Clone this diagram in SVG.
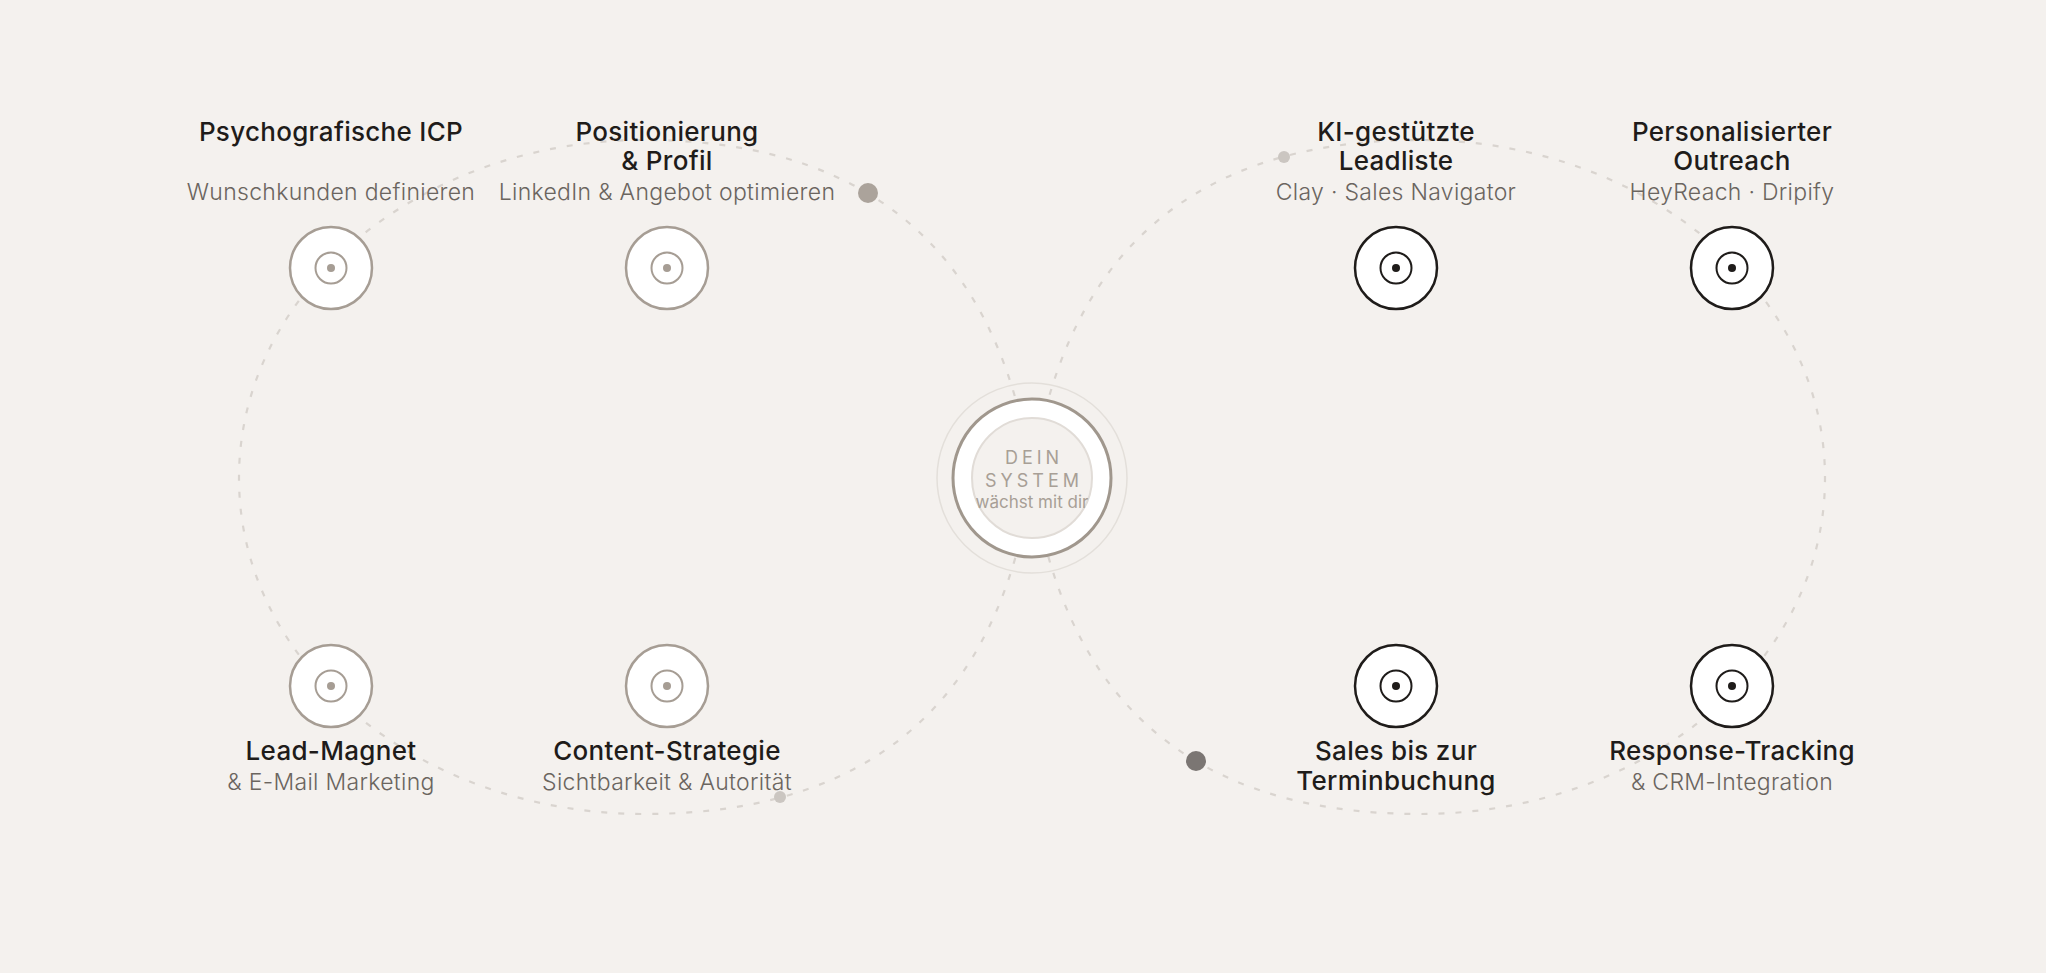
<svg xmlns="http://www.w3.org/2000/svg" width="2046" height="973" viewBox="0 0 2046 973">
<style>
.loop{fill:none;stroke:#d9d4cf;stroke-width:2.2;stroke-dasharray:6 11}
.ring-l{fill:#fff;stroke:#a69d94;stroke-width:2.5}
.in-l{fill:none;stroke:#a69d94;stroke-width:2}
.dot-l{fill:#a69d94}
.ring-r{fill:#fff;stroke:#1f1c1a;stroke-width:2.5}
.in-r{fill:none;stroke:#1f1c1a;stroke-width:2}
.dot-r{fill:#1f1c1a}
.t{font-family:Inter,"Liberation Sans",sans-serif;font-size:26px;font-weight:500;letter-spacing:0.3px;fill:#1f1c1a;text-anchor:middle}
.s{font-family:Inter,"Liberation Sans",sans-serif;font-size:23px;font-weight:300;letter-spacing:0.3px;fill:#6b655f;text-anchor:middle}
.c{font-family:Inter,"Liberation Sans",sans-serif;fill:#a89f96;text-anchor:middle}
</style>
<rect width="2046" height="973" fill="#f4f1ee"/>
<g id="connectors">
<path class="loop" d="M1032,478 C1060,278 1170,140 1420,140 C1640,140 1825,288 1825,478 C1825,668 1640,814 1420,814 C1170,814 1060,678 1032,478 C1004,278 894,140 644,140 C424,140 239,288 239,478 C239,668 424,814 644,814 C894,814 1004,678 1032,478 Z"/>
<circle cx="868" cy="193" r="10" fill="#aba39b"/>
<circle cx="1196" cy="761" r="10" fill="#7b7673"/>
<circle cx="1284" cy="157" r="6" fill="#cbc6c1"/>
<circle cx="780" cy="797" r="6" fill="#cbc6c1"/>
</g>
<g id="center">
<circle cx="1032" cy="478" r="95" fill="none" stroke="#e3dfda" stroke-width="1.5"/>
<circle cx="1032" cy="478" r="79" fill="#fff" stroke="#a0978d" stroke-width="3"/>
<circle cx="1032" cy="478" r="60" fill="#f4f1ee" stroke="#e1dcd7" stroke-width="2"/>
<text class="c" x="1034" y="464" font-size="18" letter-spacing="4">DEIN</text>
<text class="c" x="1034" y="487" font-size="18" letter-spacing="4">SYSTEM</text>
<text class="c" x="1032" y="508" font-size="17">wächst mit dir</text>
</g>
<g id="node-icp">
<circle class="ring-l" cx="331" cy="268" r="41"/><circle class="in-l" cx="331" cy="268" r="15.5"/><circle class="dot-l" cx="331" cy="268" r="4"/>
<text class="t" x="331" y="141">Psychografische ICP</text>
<text class="s" x="331" y="200">Wunschkunden definieren</text>
</g>
<g id="node-positionierung">
<circle class="ring-l" cx="667" cy="268" r="41"/><circle class="in-l" cx="667" cy="268" r="15.5"/><circle class="dot-l" cx="667" cy="268" r="4"/>
<text class="t" x="667" y="141">Positionierung</text>
<text class="t" x="667" y="170">&amp; Profil</text>
<text class="s" x="667" y="200">LinkedIn &amp; Angebot optimieren</text>
</g>
<g id="node-leadmagnet">
<circle class="ring-l" cx="331" cy="686" r="41"/><circle class="in-l" cx="331" cy="686" r="15.5"/><circle class="dot-l" cx="331" cy="686" r="4"/>
<text class="t" x="331" y="760">Lead-Magnet</text>
<text class="s" x="331" y="790">&amp; E-Mail Marketing</text>
</g>
<g id="node-content">
<circle class="ring-l" cx="667" cy="686" r="41"/><circle class="in-l" cx="667" cy="686" r="15.5"/><circle class="dot-l" cx="667" cy="686" r="4"/>
<text class="t" x="667" y="760">Content-Strategie</text>
<text class="s" x="667" y="790">Sichtbarkeit &amp; Autorität</text>
</g>
<g id="node-leadliste">
<circle class="ring-r" cx="1396" cy="268" r="41"/><circle class="in-r" cx="1396" cy="268" r="15.5"/><circle class="dot-r" cx="1396" cy="268" r="4"/>
<text class="t" x="1396" y="141">KI-gestützte</text>
<text class="t" x="1396" y="170">Leadliste</text>
<text class="s" x="1396" y="200">Clay · Sales Navigator</text>
</g>
<g id="node-outreach">
<circle class="ring-r" cx="1732" cy="268" r="41"/><circle class="in-r" cx="1732" cy="268" r="15.5"/><circle class="dot-r" cx="1732" cy="268" r="4"/>
<text class="t" x="1732" y="141">Personalisierter</text>
<text class="t" x="1732" y="170">Outreach</text>
<text class="s" x="1732" y="200">HeyReach · Dripify</text>
</g>
<g id="node-sales">
<circle class="ring-r" cx="1396" cy="686" r="41"/><circle class="in-r" cx="1396" cy="686" r="15.5"/><circle class="dot-r" cx="1396" cy="686" r="4"/>
<text class="t" x="1396" y="760">Sales bis zur</text>
<text class="t" x="1396" y="790">Terminbuchung</text>
</g>
<g id="node-tracking">
<circle class="ring-r" cx="1732" cy="686" r="41"/><circle class="in-r" cx="1732" cy="686" r="15.5"/><circle class="dot-r" cx="1732" cy="686" r="4"/>
<text class="t" x="1732" y="760">Response-Tracking</text>
<text class="s" x="1732" y="790">&amp; CRM-Integration</text>
</g>
</svg>
